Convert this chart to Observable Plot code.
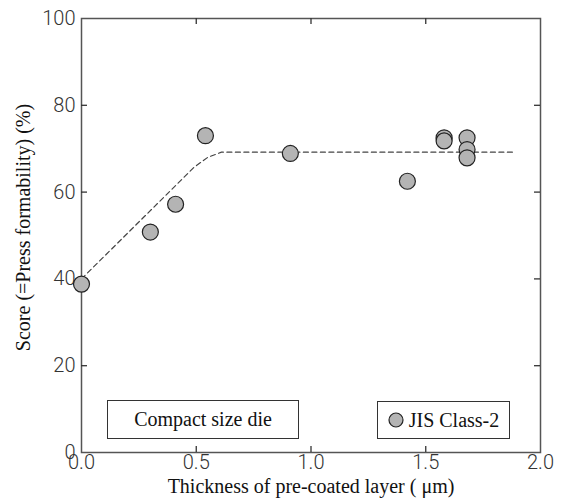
<!DOCTYPE html>
<html>
<head>
<meta charset="utf-8">
<script src="https://cdn.jsdelivr.net/npm/d3@7"></script>
<script src="https://cdn.jsdelivr.net/npm/@observablehq/plot@0.6"></script>
<style>
  html, body { margin: 0; padding: 0; background: #fff; }
  #wrap { position: relative; width: 562px; height: 504px; }
  .lgbox { position: absolute; border: 1px solid #333; background: #fff; box-sizing: border-box;
           font-family: "Liberation Serif", "Times New Roman", serif; font-size: 20px; color: #111;
           display: flex; align-items: center; justify-content: center; }
</style>
</head>
<body>
<div id="wrap"></div>
<script>
// Data
const thickness = [0, 0.30, 0.41, 0.54, 0.91, 1.42, 1.58, 1.58, 1.68, 1.68, 1.68];
const score     = [38.8, 50.8, 57.2, 73.0, 68.9, 62.5, 72.5, 71.8, 72.5, 69.8, 67.9];
// Dashed trend curve
const fitX = [0, 0.49, 0.55, 0.61, 1.88];
const fitY = [40, 65.7, 68.0, 69.2, 69.2];
// Ticks and labels
const xTicks = [0, 0.5, 1.0, 1.5, 2.0];
const yTicks = [0, 20, 40, 60, 80, 100];
const xLabel = "Thickness of pre-coated layer ( \u03bcm)";
const yLabel = "Score (=Press formability) (%)";
const legendTextBox = "Compact size die";
const legendSeries = "JIS Class-2";

const points = thickness.map((t, i) => ({x: t, y: score[i]}));
const fit = fitX.map((t, i) => ({x: t, y: fitY[i]}));

const W = 562, H = 504, mL = 81, mR = 22, mT = 18, mB = 52;
const innerW = W - mL - mR, innerH = H - mT - mB;
const tk = 6;
const tickFont = "Roboto, 'Liberation Sans', sans-serif";
const serif = "'Liberation Serif', 'Times New Roman', serif";

const chart = Plot.plot({
  width: W, height: H,
  marginLeft: mL, marginRight: mR, marginTop: mT, marginBottom: mB,
  style: {background: "#fff", fontFamily: tickFont, fontSize: "19px", color: "#333", overflow: "visible"},
  x: {domain: [0, 2]},
  y: {domain: [0, 100]},
  marks: [
    Plot.frame({stroke: "#555", strokeWidth: 1.5}),
    // inward ticks
    Plot.tickX(xTicks.slice(1, -1), {x: d => d, stroke: "#333", strokeWidth: 1.3, insetTop: innerH - tk}),
    Plot.tickX(xTicks.slice(1, -1), {x: d => d, stroke: "#333", strokeWidth: 1.3, insetBottom: innerH - tk}),
    Plot.tickY(yTicks.slice(1, -1), {y: d => d, stroke: "#333", strokeWidth: 1.3, insetRight: innerW - tk}),
    Plot.tickY(yTicks.slice(1, -1), {y: d => d, stroke: "#333", strokeWidth: 1.3, insetLeft: innerW - tk}),
    Plot.axisX(xTicks, {tickSize: 0, tickPadding: 2, tickFormat: d3.format(".1f"), label: null, fontSize: 20, fontWeight: 300, fill: "#333"}),
    Plot.axisY(yTicks, {tickSize: 0, tickPadding: 6, label: null, fontSize: 20, fontWeight: 300, fill: "#333"}),
    Plot.line(fit, {x: "x", y: "y", stroke: "#444", strokeWidth: 1.2, strokeDasharray: "5,3.5"}),
    Plot.dot(points, {x: "x", y: "y", r: 8, fill: "#b4b4b4", stroke: "#222", strokeWidth: 1.2}),
    Plot.text([xLabel], {frameAnchor: "bottom", dy: 40, text: d => d, fontFamily: serif, fontSize: 20, fill: "#111"}),
    Plot.text([yLabel], {frameAnchor: "left", dx: -58, dy: -8, rotate: -90, textAnchor: "middle", text: d => d, fontFamily: serif, fontSize: 20, fill: "#111"})
  ]
});

const wrap = document.getElementById("wrap");
wrap.appendChild(chart);

const b1 = document.createElement("div");
b1.className = "lgbox";
Object.assign(b1.style, {left: "107px", top: "400px", width: "192px", height: "39px"});
b1.textContent = legendTextBox;
wrap.appendChild(b1);

const b2 = document.createElement("div");
b2.className = "lgbox";
Object.assign(b2.style, {left: "377px", top: "401px", width: "133px", height: "38px", gap: "5px"});
b2.innerHTML = '<svg width="16" height="16" style="display:block"><circle cx="8" cy="8" r="7" fill="#b4b4b4" stroke="#222" stroke-width="1.2"/></svg><span></span>';
b2.querySelector("span").textContent = legendSeries;
wrap.appendChild(b2);
</script>
</body>
</html>
